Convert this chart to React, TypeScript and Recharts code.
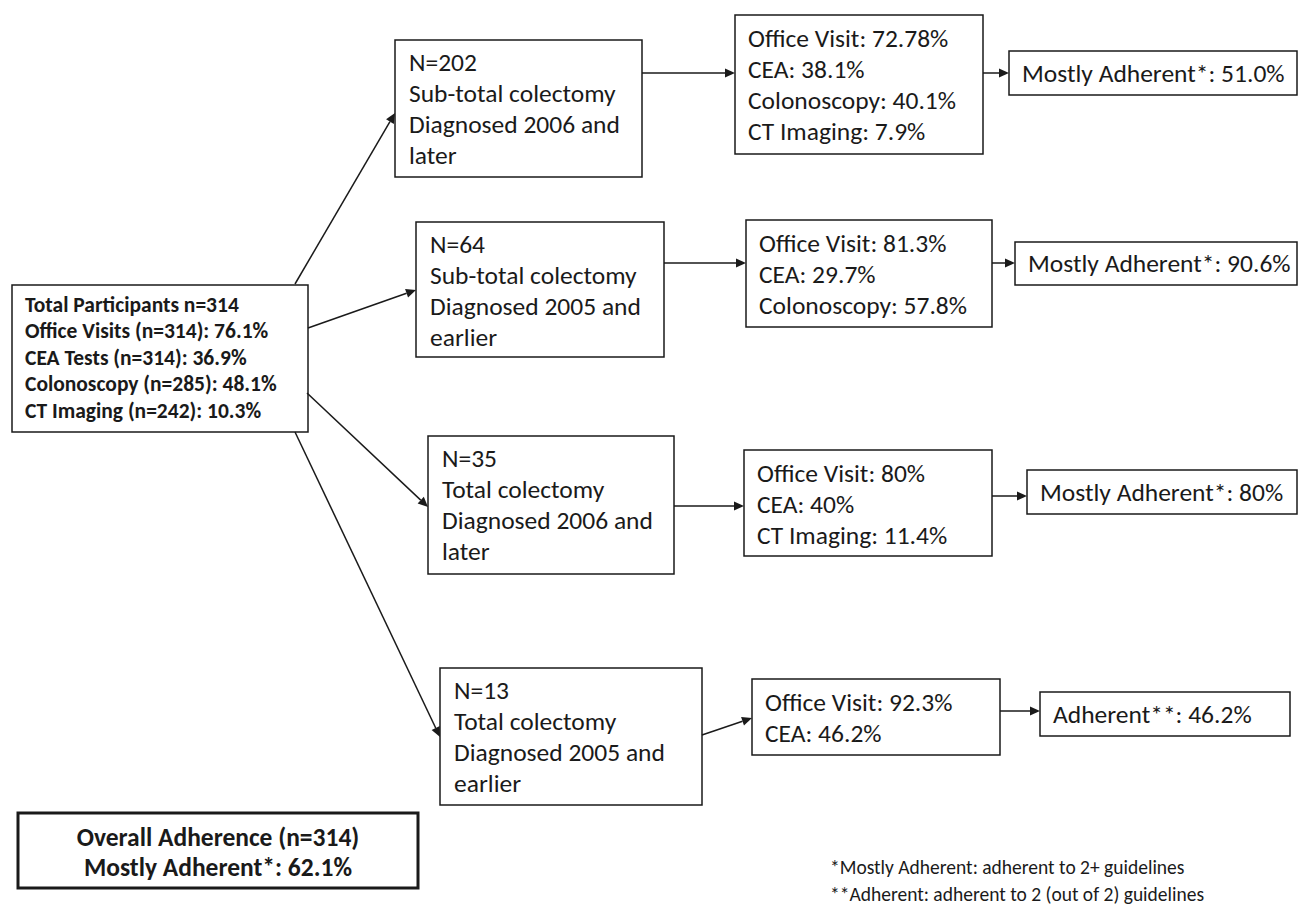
import { ScatterChart, Scatter, XAxis, YAxis, ReferenceArea, ReferenceLine } from 'recharts';

const W = 1298;
const H = 911;
const FONT = 'Carlito, Lato, sans-serif';

// overall cohort
const totalN = 314;
const overallTests = ['Office Visits', 'CEA Tests', 'Colonoscopy', 'CT Imaging'];
const overallTestN = [314, 314, 285, 242];
const overallPct = ['76.1', '36.9', '48.1', '10.3'];
const overallMostlyAdherent = '62.1';

// sub-groups
const groupN = [202, 64, 35, 13];
const groupSurgery = ['Sub-total colectomy', 'Sub-total colectomy', 'Total colectomy', 'Total colectomy'];
const groupYear = ['2006', '2005', '2006', '2005'];
const groupWhen = ['later', 'earlier', 'later', 'earlier'];

// surveillance rates per group (null = not applicable)
const officeVisit = ['72.78', '81.3', '80', '92.3'];
const cea = ['38.1', '29.7', '40', '46.2'];
const colonoscopy = ['40.1', '57.8', null, null];
const ctImaging = ['7.9', null, '11.4', null];

const adherenceLabel = ['Mostly Adherent*', 'Mostly Adherent*', 'Mostly Adherent*', 'Adherent**'];
const adherencePct = ['51.0', '90.6', '80', '46.2'];

const footnotes = [
  '*Mostly Adherent:  adherent to 2+ guidelines',
  '**Adherent:  adherent to 2 (out of 2) guidelines',
];

// layout (pixels) - boxes [x1, y1, x2, y2]
const rootBox = [12, 285, 308, 432];
const groupBoxes = [
  [395, 40, 642, 177],
  [416, 222, 664, 357],
  [428, 436, 674, 574],
  [440, 668, 702, 805],
];
const rateBoxes = [
  [735, 15, 983, 154],
  [746, 220, 992, 327],
  [744, 450, 992, 556],
  [752, 679, 1000, 755],
];
const adhBoxes = [
  [1009, 51, 1297, 95],
  [1015, 242, 1297, 285],
  [1027, 470, 1297, 514],
  [1040, 692, 1290, 736],
];
const overallBox = [18, 813, 418, 888];

// arrows [x1, y1, x2, y2]
const arrows = [
  [295, 284, 395, 113],
  [308, 328, 416, 290],
  [307, 393, 428, 507],
  [295, 432, 440, 737],
  [642, 73, 735, 73],
  [664, 263, 746, 263],
  [674, 506, 744, 506],
  [702, 735, 752, 718],
  [983, 73, 1009, 73],
  [992, 263, 1015, 263],
  [992, 496, 1027, 496],
  [1000, 711, 1040, 711],
];

type TextPt = { x: number; y: number; text: string; size: number; bold?: boolean; anchor?: string };

const LINE = 31;
const BODY = 25.5;

const buildText = (): TextPt[] => {
  const pts: TextPt[] = [];
  // root box
  const rootLines = [
    `Total Participants n=${totalN}`,
    ...overallTests.map((t, i) => `${t} (n=${overallTestN[i]}): ${overallPct[i]}%`),
  ];
  rootLines.forEach((t, i) => pts.push({ x: rootBox[0] + 13, y: rootBox[1] + 19 + i * 26.5, text: t, size: 21.5, bold: true }));

  groupN.forEach((n, g) => {
    const b = groupBoxes[g];
    const lines = [`N=${n}`, groupSurgery[g], `Diagnosed ${groupYear[g]} and`, groupWhen[g]];
    lines.forEach((t, i) => pts.push({ x: b[0] + 14, y: b[1] + 22 + i * LINE, text: t, size: BODY }));

    const r = rateBoxes[g];
    const rl: string[] = [`Office Visit: ${officeVisit[g]}%`, `CEA: ${cea[g]}%`];
    if (colonoscopy[g] !== null) rl.push(`Colonoscopy: ${colonoscopy[g]}%`);
    if (ctImaging[g] !== null) rl.push(`CT Imaging: ${ctImaging[g]}%`);
    rl.forEach((t, i) => pts.push({ x: r[0] + 13, y: r[1] + 23 + i * LINE, text: t, size: BODY }));

    const a = adhBoxes[g];
    pts.push({ x: a[0] + 13, y: (a[1] + a[3]) / 2, text: `${adherenceLabel[g]}: ${adherencePct[g]}%`, size: BODY });
  });

  const cx = (overallBox[0] + overallBox[2]) / 2;
  pts.push({ x: cx, y: 837, text: `Overall Adherence (n=${totalN})`, size: 25.5, bold: true, anchor: 'middle' });
  pts.push({ x: cx, y: 867, text: `Mostly Adherent*: ${overallMostlyAdherent}%`, size: 25.5, bold: true, anchor: 'middle' });

  footnotes.forEach((t, i) => pts.push({ x: 830, y: 867 + i * 27, text: t, size: 19.5 }));
  return pts;
};

const textData = buildText();

const TextShape = (props: any) => {
  const { cx, cy, payload } = props;
  return (
    <text
      x={cx}
      y={cy}
      dy="0.35em"
      textAnchor={payload.anchor || 'start'}
      fontFamily={FONT}
      fontSize={payload.size}
      fontWeight={payload.bold ? 700 : 400}
      fill="#1a1a1a"
    >
      {payload.text}
    </text>
  );
};

const ArrowShape = (props: any) => {
  const { x1, y1, x2, y2 } = props;
  const ang = Math.atan2(y2 - y1, x2 - x1);
  const len = 10;
  const hw = 4.5;
  const bx = x2 - len * Math.cos(ang);
  const by = y2 - len * Math.sin(ang);
  const px = -Math.sin(ang) * hw;
  const py = Math.cos(ang) * hw;
  return (
    <g>
      <line x1={x1} y1={y1} x2={bx} y2={by} stroke="#1a1a1a" strokeWidth={1.5} />
      <polygon points={`${x2},${y2} ${bx + px},${by + py} ${bx - px},${by - py}`} fill="#1a1a1a" />
    </g>
  );
};

const boxEl = (b: number[], key: string, sw = 1.5) => (
  <ReferenceArea
    key={key}
    x1={b[0]}
    x2={b[2]}
    y1={b[1]}
    y2={b[3]}
    fill="none"
    stroke="#1a1a1a"
    strokeWidth={sw}
    ifOverflow="visible"
  />
);

export default function App() {
  return (
    <div style={{ position: 'absolute', left: 0, top: 0, width: W, height: H, background: '#fff' }}>
      <ScatterChart width={W} height={H} margin={{ top: 0, right: 0, bottom: 0, left: 0 }}>
        <XAxis type="number" dataKey="x" domain={[0, W]} hide allowDataOverflow />
        <YAxis type="number" dataKey="y" domain={[0, H]} reversed hide allowDataOverflow />
        {boxEl(rootBox, 'root')}
        {groupBoxes.map((b, i) => boxEl(b, `g${i}`))}
        {rateBoxes.map((b, i) => boxEl(b, `r${i}`))}
        {adhBoxes.map((b, i) => boxEl(b, `a${i}`))}
        {boxEl(overallBox, 'overall', 3)}
        {arrows.map((a, i) => (
          <ReferenceLine
            key={`ar${i}`}
            segment={[{ x: a[0], y: a[1] }, { x: a[2], y: a[3] }]}
            ifOverflow="visible"
            shape={ArrowShape}
          />
        ))}
        <Scatter data={textData} shape={TextShape} isAnimationActive={false} />
      </ScatterChart>
    </div>
  );
}
